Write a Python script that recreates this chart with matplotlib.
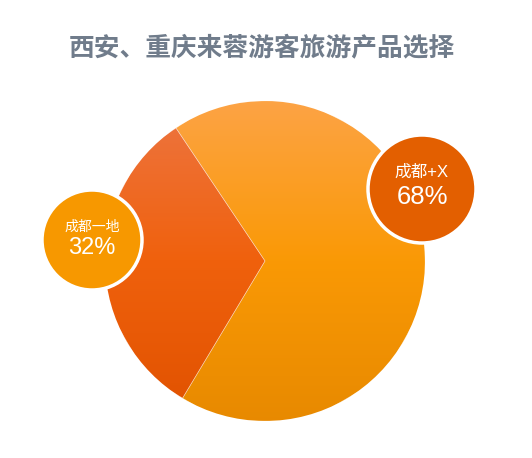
import numpy as np
import matplotlib
matplotlib.use("Agg")
import matplotlib.pyplot as plt
from matplotlib.colors import LinearSegmentedColormap
from matplotlib.patches import Circle

title = "西安、重庆来蓉游客旅游产品选择"
categories = ["成都+X", "成都一地"]
values = [68, 32]

W, H = 532, 458
fig = plt.figure(figsize=(W / 100, H / 100), dpi=100)
ax = fig.add_axes([0, 0, 1, 1])
ax.set_xlim(0, W)
ax.set_ylim(0, H)
ax.set_aspect("equal")
ax.axis("off")

cx, cy, R = 265, H - 261, 160
wedges, _ = ax.pie(values, startangle=-121, counterclock=True, center=(cx, cy),
                   radius=R, frame=True,
                   wedgeprops=dict(facecolor="none", edgecolor="none"))
ax.set_xlim(0, W)
ax.set_ylim(0, H)
ax.axis("off")

grads = [
    [(0.99, 0.64, 0.27), (0.98, 0.60, 0.02), (0.91, 0.54, 0.0)],
    [(0.93, 0.46, 0.26), (0.94, 0.38, 0.05), (0.88, 0.32, 0.0)],
]
for w, cols in zip(wedges, grads):
    cmap = LinearSegmentedColormap.from_list("g", cols)
    grad = np.linspace(0, 1, 256).reshape(-1, 1)
    im = ax.imshow(grad, cmap=cmap, aspect="auto",
                   extent=(cx - R, cx + R, cy - R, cy + R), origin="upper", zorder=1)
    im.set_clip_path(w)
    ax.add_patch(plt.Polygon(w.get_path().vertices, closed=True, transform=w.get_transform(),
                             facecolor="none", edgecolor=(1, 1, 1, 0.35), lw=0.5, zorder=2))

# badges
badges = [
    dict(idx=0, xy=(422, H - 189), r=54, color="#E35F00", fs1=12, fs2=18.5, d1=17, d2=-8),
    dict(idx=1, xy=(92, H - 240), r=50, color="#F79800", fs1=10, fs2=17, d1=13, d2=-8),
]
fam = ["Liberation Sans", "Noto Sans CJK SC"]
for b in badges:
    c = Circle(b["xy"], b["r"], facecolor=b["color"], edgecolor="white", lw=2.5, zorder=3)
    ax.add_patch(c)
    x, y = b["xy"]
    i = b["idx"]
    ax.text(x, y + b["d1"], categories[i], ha="center", va="center", color="white",
            fontsize=b["fs1"], family=fam, zorder=4)
    ax.text(x, y + b["d2"], f"{values[i]}%", ha="center", va="center", color="white",
            fontsize=b["fs2"], family=fam, zorder=4)

ax.text(262, H - 49, title, ha="center", va="center", color="#707C8B",
        fontsize=18.5, fontweight="bold", family=["Noto Sans CJK SC", "DejaVu Sans"])

fig.savefig("out.png", dpi=100)
